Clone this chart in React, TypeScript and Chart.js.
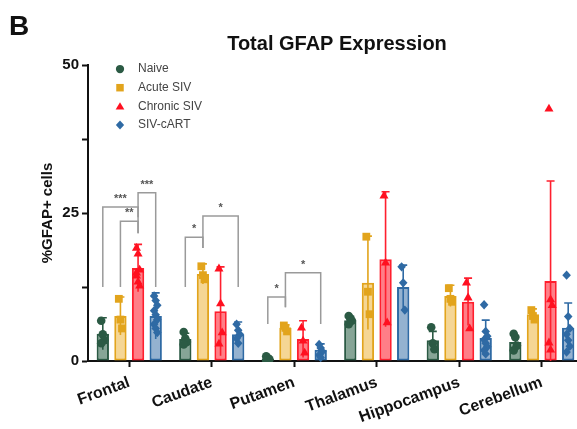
import { useEffect, useRef } from "react";
import { Chart, registerables } from "chart.js";

Chart.register(...registerables);

const categories = ["Frontal", "Caudate", "Putamen", "Thalamus", "Hippocampus", "Cerebellum"];
const groupNames = ["Naive", "Acute SIV", "Chronic SIV", "SIV-cART"];

const naiveMean = [4.6, 3.7, 0.4, 6.9, 3.5, 3.2];
const acuteMean = [7.6, 14.7, 5.6, 13.2, 11.0, 7.9];
const chronicMean = [15.7, 8.4, 3.7, 17.2, 10.0, 13.5];
const cartMean = [7.6, 4.5, 1.9, 12.5, 3.9, 5.6];

const naiveSD = [2.7, 1.0, 0.4, 0.6, 1.5, 1.0];
const acuteSD = [3.2, 1.7, 0.5, 7.9, 1.8, 0.9];
const chronicSD = [4.0, 7.5, 3.1, 11.4, 4.0, 16.9];
const cartSD = [3.9, 2.1, 1.0, 3.7, 3.0, 4.2];

const naivePoints = [
  [6.8, 4.5, 3.5, 3.0],
  [4.9, 3.8, 3.2, 2.8],
  [0.8, 0.5, 0.3, 0.1],
  [7.6, 7.2, 6.8, 6.2],
  [5.7, 3.0, 2.0],
  [4.6, 4.0, 2.6, 1.8],
];
const acutePoints = [
  [10.5, 7.0, 5.5],
  [16.0, 14.5, 13.8],
  [6.0, 5.6, 5.0],
  [21.0, 11.7, 7.9],
  [12.3, 10.5, 10.0],
  [8.6, 7.6, 7.0],
];
const chronicPoints = [
  [19.2, 18.2, 15.5, 14.5, 13.5, 12.8, 15.0],
  [15.7, 9.8, 4.9, 3.0],
  [5.7, 3.5, 1.5],
  [28.0, 16.7, 6.6],
  [13.3, 10.8, 5.6],
  [42.7, 10.5, 9.5, 3.2, 2.0],
];
const cartPoints = [
  [11.0, 10.2, 9.4, 8.5, 7.8, 7.0, 6.2, 5.5, 4.8],
  [6.2, 5.2, 4.5, 3.8, 3.0],
  [2.8, 2.2, 1.6, 1.0, 0.6],
  [15.9, 13.2, 8.6],
  [9.5, 5.0, 4.2, 3.6, 3.0, 2.4, 1.8, 1.2],
  [14.5, 7.5, 5.5, 4.5, 3.5, 2.5, 1.5],
];

const yTickLabels = [0, 25, 50];

// significance brackets: category index, from group, to group, top value, leg bottoms, label
const bracketCategory = [0, 0, 0, 1, 1, 2, 2];
const bracketFrom = [0, 1, 2, 0, 1, 0, 1];
const bracketTo = [2, 2, 3, 1, 3, 1, 3];
const bracketTop = [26.0, 23.6, 28.4, 20.9, 24.5, 10.8, 14.9];
const bracketLegFrom = [12.5, 12.5, 24.3, 12.5, 19.1, 6.25, 9.1];
const bracketLegTo = [21.6, 21.6, 12.5, 19.1, 12.5, 9.1, 6.25];
const bracketLabel = ["***", "**", "***", "*", "*", "*", "*"];

const means = [naiveMean, acuteMean, chronicMean, cartMean];
const sds = [naiveSD, acuteSD, chronicSD, cartSD];
const points = [naivePoints, acutePoints, chronicPoints, cartPoints];

const borderColors = ["#2b5a44", "#e2a41c", "#ff1f2e", "#2f6aa4"];
const fillColors = [
  "rgba(60,110,85,0.62)",
  "rgba(236,180,60,0.55)",
  "rgba(255,40,55,0.6)",
  "rgba(60,115,170,0.55)",
];
const markerColors = ["#2b5a44", "#e2a41c", "#ff1020", "#2f6aa4"];
const markerShapes = ["circle", "square", "triangle", "diamond"];

const FONT = "'Liberation Sans', Arial, sans-serif";

function drawMarker(ctx: CanvasRenderingContext2D, shape: string, x: number, y: number, s: number) {
  ctx.beginPath();
  if (shape === "circle") {
    ctx.arc(x, y, s * 0.55, 0, Math.PI * 2);
  } else if (shape === "square") {
    ctx.rect(x - s * 0.5, y - s * 0.5, s, s);
  } else if (shape === "triangle") {
    const h = s * 0.95;
    ctx.moveTo(x, y - h * 0.6);
    ctx.lineTo(x + s * 0.58, y + h * 0.45);
    ctx.lineTo(x - s * 0.58, y + h * 0.45);
    ctx.closePath();
  } else {
    ctx.moveTo(x, y - s * 0.6);
    ctx.lineTo(x + s * 0.55, y);
    ctx.lineTo(x, y + s * 0.6);
    ctx.lineTo(x - s * 0.55, y);
    ctx.closePath();
  }
  ctx.fill();
}

const overlayPlugin = {
  id: "overlay",
  afterDatasetsDraw(chart: any) {
    const ctx: CanvasRenderingContext2D = chart.ctx;
    const yScale = chart.scales.y;
    const area = chart.chartArea;
    ctx.save();
    ctx.beginPath();
    ctx.rect(area.left - 10, 0, chart.width, area.bottom + 1);
    ctx.clip();
    // error bars
    for (let g = 0; g < 4; g++) {
      const meta = chart.getDatasetMeta(g);
      ctx.strokeStyle = borderColors[g];
      ctx.lineWidth = 1.6;
      for (let c = 0; c < categories.length; c++) {
        const bar = meta.data[c];
        const x = bar.x;
        const top = yScale.getPixelForValue(means[g][c] + sds[g][c]);
        const bot = yScale.getPixelForValue(Math.max(0, means[g][c] - sds[g][c]));
        ctx.beginPath();
        ctx.moveTo(x, top);
        ctx.lineTo(x, bot);
        ctx.moveTo(x - 4, top);
        ctx.lineTo(x + 4, top);
        ctx.stroke();
      }
    }
    // points
    for (let g = 0; g < 4; g++) {
      const meta = chart.getDatasetMeta(g);
      ctx.fillStyle = markerColors[g];
      for (let c = 0; c < categories.length; c++) {
        const bar = meta.data[c];
        const pts = points[g][c];
        for (let j = 0; j < pts.length; j++) {
          const dx = ((j % 3) - 1) * 1.6;
          drawMarker(ctx, markerShapes[g], bar.x + dx, yScale.getPixelForValue(pts[j]), 7.8);
        }
      }
    }
    ctx.restore();

    // brackets
    ctx.save();
    ctx.strokeStyle = "#9a9a9a";
    ctx.lineWidth = 1.5;
    ctx.fillStyle = "#555";
    ctx.font = `bold 11px ${FONT}`;
    ctx.textAlign = "center";
    ctx.textBaseline = "middle";
    for (let i = 0; i < bracketCategory.length; i++) {
      const c = bracketCategory[i];
      const xa = chart.getDatasetMeta(bracketFrom[i]).data[c].x;
      const xb = chart.getDatasetMeta(bracketTo[i]).data[c].x;
      const yt = yScale.getPixelForValue(bracketTop[i]);
      const ya = yScale.getPixelForValue(bracketLegFrom[i]);
      const yb = yScale.getPixelForValue(bracketLegTo[i]);
      ctx.beginPath();
      ctx.moveTo(xa, ya);
      ctx.lineTo(xa, yt);
      ctx.lineTo(xb, yt);
      ctx.lineTo(xb, yb);
      ctx.stroke();
      ctx.fillText(bracketLabel[i], (xa + xb) / 2, yt - 8);
    }
    ctx.restore();

    // legend
    ctx.save();
    const lx = area.left + 32;
    const ly0 = area.top + 4;
    ctx.font = `12px ${FONT}`;
    ctx.textBaseline = "middle";
    ctx.textAlign = "left";
    for (let g = 0; g < 4; g++) {
      const ly = ly0 + g * 18.7;
      ctx.fillStyle = markerColors[g];
      drawMarker(ctx, markerShapes[g], lx, ly, 7.5);
      ctx.fillStyle = "#444";
      ctx.fillText(groupNames[g], lx + 18, ly);
    }
    ctx.restore();

    // panel letter, title, y label
    ctx.save();
    ctx.fillStyle = "#111";
    ctx.textBaseline = "alphabetic";
    ctx.textAlign = "left";
    ctx.font = `bold 28px ${FONT}`;
    ctx.fillText("B", 9, 35);
    ctx.textAlign = "center";
    ctx.font = `bold 20px ${FONT}`;
    ctx.fillText("Total GFAP Expression", 337, 50);
    ctx.translate(48, 213);
    ctx.rotate(-Math.PI / 2);
    ctx.textBaseline = "middle";
    ctx.font = `bold 15px ${FONT}`;
    ctx.fillText("%GFAP+ cells", 0, 0);
    ctx.restore();
  },
};

export default function App() {
  const ref = useRef<HTMLCanvasElement | null>(null);
  useEffect(() => {
    document.body.style.margin = "0";
    document.body.style.overflow = "hidden";
    const canvas = ref.current;
    if (!canvas) return;
    const chart = new Chart(canvas, {
      type: "bar",
      data: {
        labels: categories,
        datasets: groupNames.map((name, g) => ({
          label: name,
          data: means[g],
          backgroundColor: fillColors[g],
          borderColor: borderColors[g],
          borderWidth: 2,
          borderSkipped: false,
          categoryPercentage: 0.855,
          barPercentage: 0.7,
        })),
      },
      options: {
        responsive: false,
        animation: false,
        layout: { padding: { top: 65, right: 0, left: 0, bottom: 0 } },
        plugins: {
          legend: { display: false },
          title: { display: false },
          tooltip: { enabled: false },
        },
        scales: {
          x: {
            grid: {
              display: true,
              drawOnChartArea: false,
              offset: false,
              tickLength: 6,
              tickWidth: 2,
              tickColor: "#111",
            },
            border: { display: true, color: "#111", width: 2 },
            ticks: {
              minRotation: 20,
              maxRotation: 20,
              color: "#111",
              padding: 6,
              font: { family: FONT, size: 16, weight: "bold" },
            },
            afterFit(scale: any) {
              scale.height = 68;
            },
          },
          y: {
            min: 0,
            max: 50,
            grid: {
              display: true,
              drawOnChartArea: false,
              tickLength: 6,
              tickWidth: 2,
              tickColor: "#111",
            },
            border: { display: true, color: "#111", width: 2 },
            ticks: {
              stepSize: 12.5,
              autoSkip: false,
              color: "#111",
              padding: 3,
              font: { family: FONT, size: 15, weight: "bold" },
              callback: (v: any) => (yTickLabels.includes(Number(v)) ? String(v) : ""),
            },
            afterFit(scale: any) {
              scale.width = 88;
            },
          },
        },
      },
      plugins: [overlayPlugin],
    });
    return () => chart.destroy();
  }, []);
  return (
    <div style={{ width: 577, height: 429, position: "relative", overflow: "hidden" }}>
      <canvas ref={ref} width={583} height={429} style={{ display: "block" }} />
    </div>
  );
}
